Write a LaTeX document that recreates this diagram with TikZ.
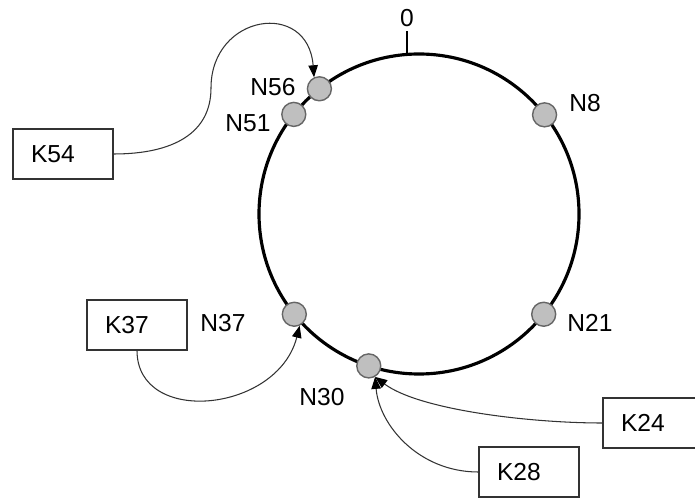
\documentclass[tikz,border=0pt]{standalone}
\usepackage{fontspec}
\setmainfont{Liberation Sans}
\usetikzlibrary{arrows.meta}

\begin{document}
\begin{tikzpicture}[
  x=0.02cm, y=0.02cm,
  font=\fontsize{14}{16}\selectfont,
  peer/.style={circle, draw=black!60, fill=gray!50, line width=0.8pt, minimum size=0.48cm, inner sep=0pt},
  keybox/.style={draw=black!80, line width=0.6pt, minimum height=1cm, text width=1.28cm, inner xsep=0.36cm, align=left},
  lookup/.style={draw=black!80, line width=0.6pt, -{Triangle[length=0.24cm, width=0.19cm, color=black]}},
]
\useasboundingbox (0,0) rectangle (695,-499);
\clip (0,0) rectangle (695,-499);

% --- Identifier ring ---
\coordinate (ring) at (419,-214);
\draw[line width=1.8pt] (ring) circle (160);

% Zero mark at the top of the ring.
\coordinate (zero) at ([shift={(94.3:160)}]ring);
\draw[line width=0.7pt] (zero) -- ++(0,23) coordinate (zerotop);
\node[above=-1pt] (lzero) at (zerotop) {0};

% Peers on the ring, with their labels.
\foreach \a/\nm/\lx/\ly in {38.3/8/585/103, -38.8/21/590/323, -108.3/30/322/397,
                            -141.2/37/223/323, 141.5/51/248/123, 128.5/56/273/87} {
  \node[peer] (n\nm) at ([shift={(\a:160)}]ring) {};
  \node (l\nm) at (\lx,-\ly) {N\nm};
}

% --- Keys ---
\node[keybox] (k54) at (63,-154) {K54};
\node[keybox] (k37) at (137,-325) {K37};
\node[keybox] (k24) at (653,-423) {K24};
\node[keybox] (k28) at (529,-472) {K28};

% Each key is stored at its successor.
\draw[lookup] (k54.east) .. controls +(60,0) and +(0,-45) .. (211,-88)
  .. controls +(0,74) and +(-6,78) .. (n56.115);
\draw[lookup] (k37.south) .. controls +(0,-76) and +(-22,-87) .. (n37.-65);
\draw[lookup] (k24.west) .. controls +(-73,0) and +(44,-33) .. (n30.-60);
\draw[lookup] (k28.west) .. controls +(-60,0) and +(4,-48) .. (n30.-60);

\end{tikzpicture}
\end{document}
